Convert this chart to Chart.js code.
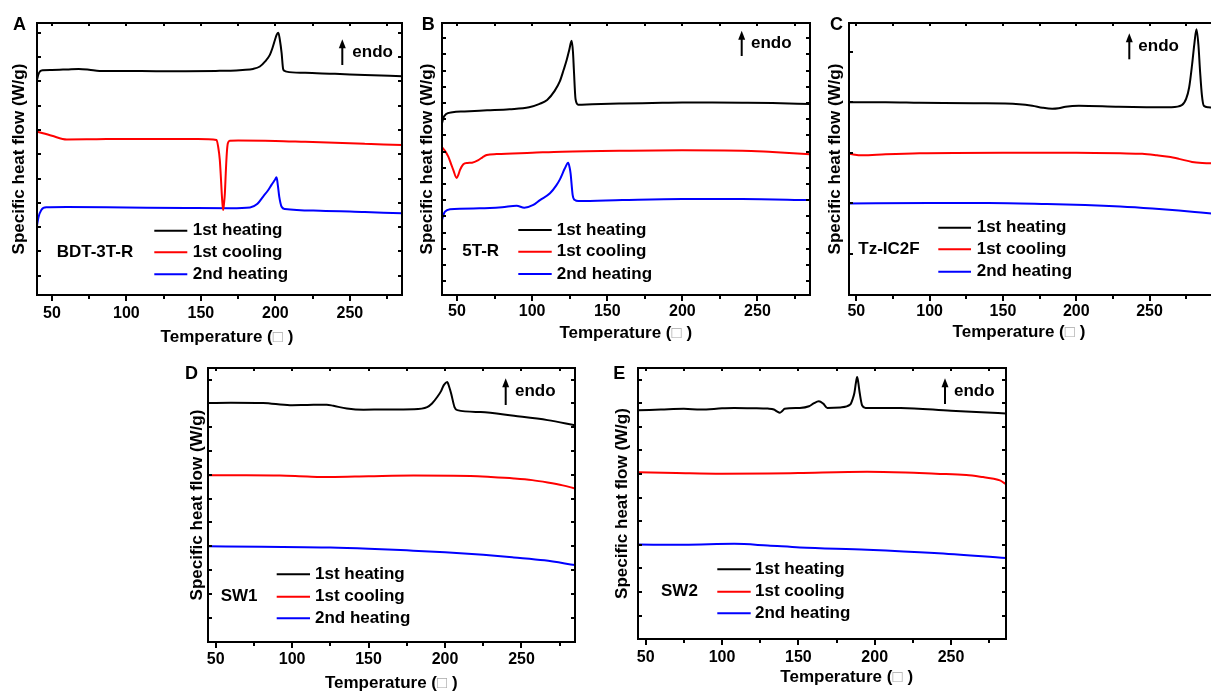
<!DOCTYPE html>
<html>
<head>
<meta charset="utf-8">
<title>DSC traces</title>
<script src="https://cdn.jsdelivr.net/npm/chart.js@4.4.0/dist/chart.umd.min.js"></script>
<style>
  html, body { margin: 0; padding: 0; background: #fff; overflow: hidden; }
  body { width: 1211px; height: 693px; position: relative; }
  canvas { position: absolute; }
</style>
</head>
<body>
<canvas id="panelA" width="410" height="350" style="left:0px;top:0px"></canvas>
<canvas id="panelB" width="410" height="350" style="left:410px;top:0px"></canvas>
<canvas id="panelC" width="420" height="350" style="left:820px;top:0px"></canvas>
<canvas id="panelD" width="420" height="343" style="left:180px;top:350px"></canvas>
<canvas id="panelE" width="420" height="343" style="left:600px;top:350px"></canvas>
<script>
// --- shared axis / legend values ---
const xTicks = [50, 100, 150, 200, 250];
const traceLabels = ['1st heating', '1st cooling', '2nd heating'];
const traceColors = ['#000000', '#ff0000', '#0000ff'];

// --- BDT-3T-R (heat flow in tick units, traces offset) ---
const tempA1 = [40, 40.8, 42, 44, 50, 60, 68, 75, 82, 90, 100, 120, 140, 160, 170, 178, 185, 189.6, 193, 196.3, 198, 199.7, 201, 202, 203, 204.2, 205.2, 206.2, 207.5, 220, 240, 260, 285];
const flowA1 = [8.85, 9.05, 9.2, 9.25, 9.26, 9.28, 9.3, 9.27, 9.22, 9.22, 9.22, 9.21, 9.21, 9.22, 9.23, 9.26, 9.3, 9.4, 9.6, 9.88, 10.15, 10.49, 10.72, 10.79, 10.5, 9.95, 9.3, 9.22, 9.19, 9.14, 9.1, 9.05, 9.0];
const tempA2 = [40, 50, 60, 80, 100, 120, 140, 155, 160.5, 161.6, 162.7, 163.4, 164.0, 164.5, 165.0, 165.5, 166.1, 166.7, 167.4, 168.1, 169.4, 175, 200, 220, 240, 260, 285];
const flowA2 = [6.72, 6.55, 6.4, 6.41, 6.42, 6.42, 6.42, 6.41, 6.38, 6.1, 5.56, 4.87, 4.18, 3.75, 3.5, 3.75, 4.18, 5.01, 5.83, 6.24, 6.35, 6.36, 6.34, 6.3, 6.26, 6.22, 6.17];
const tempA3 = [40, 41, 42.9, 46.2, 60, 100, 140, 170, 183, 188, 191.8, 195, 197.4, 199.5, 200.8, 201.7, 202.6, 204.2, 206.4, 230, 260, 285];
const flowA3 = [2.85, 3.2, 3.5, 3.61, 3.62, 3.6, 3.58, 3.57, 3.6, 3.75, 4.05, 4.3, 4.53, 4.72, 4.84, 4.5, 4.05, 3.63, 3.54, 3.47, 3.41, 3.36];

// --- 5T-R ---
const tempB1 = [40, 41, 42.5, 47, 55, 70, 85, 98, 105, 110, 115, 118.5, 121, 123, 124.7, 126.3, 127.2, 127.8, 128.9, 130.7, 140, 160, 180, 200, 220, 240, 260, 285];
const flowB1 = [10.6, 10.95, 11.15, 11.28, 11.33, 11.4, 11.47, 11.59, 11.8, 12.04, 12.6, 13.2, 13.9, 14.5, 15.12, 15.7, 15.0, 13.9, 12.1, 11.75, 11.78, 11.82, 11.85, 11.88, 11.88, 11.87, 11.85, 11.79];
const tempB2 = [40, 42, 44.2, 46, 47.5, 49.8, 51, 52, 54.2, 57, 60, 64.2, 67, 69.8, 76.4, 100, 120, 165, 200, 240, 260, 285];
const flowB2 = [9.12, 8.9, 8.54, 8.1, 7.72, 7.22, 7.45, 7.72, 8.07, 8.15, 8.17, 8.33, 8.5, 8.64, 8.7, 8.78, 8.85, 8.91, 8.93, 8.91, 8.82, 8.69];
const tempB3 = [40, 41, 42, 45.3, 65, 80, 89.7, 94.8, 100.8, 105.2, 111.9, 116, 118.5, 121.8, 124, 125, 125.6, 127, 128.5, 130.7, 160, 200, 240, 285];
const flowB3 = [4.63, 4.95, 5.14, 5.29, 5.35, 5.42, 5.51, 5.39, 5.56, 5.86, 6.28, 6.75, 7.14, 7.82, 8.17, 7.85, 7.51, 6.17, 5.86, 5.8, 5.86, 5.92, 5.92, 5.86];

// --- Tz-IC2F ---
const tempC1 = [45, 70, 93, 130, 161, 170, 177, 183.6, 188, 192.7, 201.8, 229, 265, 272, 275, 277, 279, 280.5, 282, 283.3, 284.5, 285.7, 287, 290, 296];
const flowC1 = [3.81, 3.81, 3.8, 3.79, 3.77, 3.74, 3.7, 3.68, 3.69, 3.72, 3.74, 3.72, 3.71, 3.75, 3.88, 4.1, 4.55, 4.95, 5.25, 4.95, 4.4, 3.95, 3.74, 3.71, 3.7];
const tempC2 = [45, 54, 70, 93, 150, 200, 230, 245, 255, 263, 270, 279, 286, 296];
const flowC2 = [2.79, 2.76, 2.78, 2.8, 2.81, 2.81, 2.8, 2.79, 2.76, 2.73, 2.69, 2.63, 2.61, 2.6];
const tempC3 = [45, 100, 140, 180, 206, 230, 252, 270, 285, 296];
const flowC3 = [1.81, 1.82, 1.82, 1.8, 1.78, 1.75, 1.71, 1.67, 1.63, 1.6];

// --- SW1 ---
const tempD1 = [45, 60, 81, 98.6, 110, 122.7, 127, 135.8, 146.7, 160, 179.5, 188.3, 191.5, 194.9, 197.5, 199.2, 201.4, 202.8, 204, 206.2, 208, 223.3, 245.1, 267.1, 285];
const flowD1 = [10.04, 10.05, 10.04, 9.95, 9.96, 9.97, 9.92, 9.81, 9.76, 9.77, 9.78, 9.87, 10.02, 10.29, 10.55, 10.79, 10.92, 10.7, 10.44, 9.87, 9.74, 9.66, 9.5, 9.32, 9.1];
const tempD2 = [45, 70, 92, 110, 124.8, 150, 179.5, 216.7, 230, 245.1, 257, 267.1, 277, 285];
const flowD2 = [7.0, 7.0, 6.99, 6.95, 6.93, 6.96, 6.99, 6.97, 6.93, 6.87, 6.8, 6.7, 6.58, 6.45];
const tempD3 = [45, 80, 125, 150, 175, 200, 225, 245, 265, 285];
const flowD3 = [4.02, 4.0, 3.97, 3.92, 3.85, 3.77, 3.66, 3.55, 3.43, 3.23];

// --- SW2 ---
const tempE1 = [45, 60, 75, 86, 100, 108, 120, 130, 134, 136, 137.9, 139.5, 141, 151, 157, 160, 163.4, 166.3, 169, 177.6, 184, 185.5, 186.7, 187.7, 188.5, 189.3, 190.2, 191.8, 194, 217, 250, 270, 286];
const flowE1 = [9.69, 9.72, 9.75, 9.72, 9.77, 9.79, 9.78, 9.76, 9.72, 9.64, 9.58, 9.66, 9.75, 9.79, 9.86, 9.98, 10.07, 9.97, 9.79, 9.81, 9.93, 10.15, 10.42, 10.85, 11.1, 10.85, 10.42, 9.89, 9.79, 9.79, 9.67, 9.61, 9.55];
const tempE2 = [45, 70, 100, 130, 150, 195, 220, 240, 260, 271, 278, 282, 286];
const flowE2 = [7.06, 7.03, 7.0, 7.01, 7.03, 7.08, 7.05, 7.0, 6.95, 6.86, 6.79, 6.72, 6.56];
const tempE3 = [45, 75, 108, 130, 151, 195, 239, 286];
const flowE3 = [4.0, 3.99, 4.03, 3.96, 3.88, 3.78, 3.64, 3.43];

Chart.defaults.font.family = '"Liberation Sans", Arial, Helvetica, sans-serif';
Chart.defaults.color = '#000';

const FONT_TXT = 'bold 17px "Liberation Sans", Arial, sans-serif';
const FONT_LETTER = 'bold 18px "Liberation Sans", Arial, sans-serif';

// frame, inward/outward ticks, titles, endo arrow, legend and sample name
const panelDecor = {
  id: 'panelDecor',
  afterDraw(chart, args, o) {
    const ctx = chart.ctx;
    const { left, top, right, bottom } = chart.chartArea;
    const xs = chart.scales.x, ys = chart.scales.y;
    ctx.save();
    ctx.strokeStyle = '#000';
    ctx.fillStyle = '#000';
    ctx.lineWidth = 2;
    ctx.strokeRect(left, top, right - left, bottom - top);

    ctx.beginPath();
    for (let v = Math.ceil(xs.min / 25) * 25; v <= xs.max; v += 25) {
      const px = Math.round(xs.getPixelForValue(v));
      const major = v % 50 === 0;
      ctx.moveTo(px, bottom);
      ctx.lineTo(px, bottom + (major ? 6 : 4));
      ctx.moveTo(px, top);
      ctx.lineTo(px, top + 3);
    }
    for (let v = o.yTickStart; v <= ys.max; v += 1) {
      const py = Math.round(ys.getPixelForValue(v));
      ctx.moveTo(left, py);
      ctx.lineTo(left + 4, py);
      ctx.moveTo(right, py);
      ctx.lineTo(right - 4, py);
    }
    ctx.stroke();

    // panel letter
    ctx.font = FONT_LETTER;
    ctx.textAlign = 'left';
    ctx.textBaseline = 'alphabetic';
    ctx.fillText(o.letter, o.letterPos[0], o.letterPos[1]);

    // y title
    ctx.font = FONT_TXT;
    ctx.textBaseline = 'middle';
    ctx.save();
    ctx.translate(o.yTitleX, (top + bottom) / 2);
    ctx.rotate(-Math.PI / 2);
    ctx.textAlign = 'center';
    ctx.fillText('Specific heat flow (W/g)', 0, 0);
    ctx.restore();

    // x title, the unit glyph drawn lighter
    const parts = ['Temperature (', '\u25A1', ' )'];
    const widths = parts.map(s => ctx.measureText(s).width);
    let tx = o.xTitle[0] - widths.reduce((a, b) => a + b, 0) / 2;
    ctx.textAlign = 'left';
    parts.forEach((s, i) => {
      ctx.fillStyle = i === 1 ? '#a8a8a8' : '#000';
      ctx.fillText(s, tx, o.xTitle[1]);
      tx += widths[i];
    });
    ctx.fillStyle = '#000';

    // endo arrow
    const e = o.endo;
    ctx.beginPath();
    ctx.moveTo(e.x, e.bottom);
    ctx.lineTo(e.x, e.top + 6);
    ctx.stroke();
    ctx.beginPath();
    ctx.moveTo(e.x, e.top);
    ctx.lineTo(e.x - 3.5, e.top + 9);
    ctx.lineTo(e.x + 3.5, e.top + 9);
    ctx.closePath();
    ctx.fill();
    ctx.fillText('endo', e.textX, e.textY);

    // legend
    chart.data.datasets.forEach((ds, i) => {
      const y = o.legendRows[i];
      ctx.strokeStyle = ds.borderColor;
      ctx.beginPath();
      ctx.moveTo(o.legendLine[0], y);
      ctx.lineTo(o.legendLine[1], y);
      ctx.stroke();
      ctx.fillStyle = '#000';
      ctx.fillText(ds.label, o.legendTextX, y);
    });

    ctx.fillText(o.sample, o.samplePos[0], o.samplePos[1]);
    ctx.restore();
  }
};

function buildPanel(id, p) {
  const canvas = document.getElementById(id);
  const W = canvas.width, H = canvas.height;
  return new Chart(canvas, {
    type: 'line',
    data: {
      datasets: p.traces.map((tr, i) => ({
        label: traceLabels[i],
        data: tr[0].map((t, k) => ({ x: t, y: tr[1][k] })),
        borderColor: traceColors[i],
        borderWidth: 2,
        pointRadius: 0,
        cubicInterpolationMode: 'monotone',
        fill: false
      }))
    },
    options: {
      responsive: false,
      animation: false,
      devicePixelRatio: 1,
      layout: { padding: { left: 0, top: p.area.top, right: W - p.area.right, bottom: 0 } },
      scales: {
        x: {
          type: 'linear',
          min: p.xMin,
          max: p.xMax,
          grid: { display: false, drawTicks: false },
          border: { display: false },
          ticks: { color: '#000', font: { size: 16, weight: 'bold' }, padding: p.tickPad, maxRotation: 0, autoSkip: false },
          afterBuildTicks: s => { s.ticks = xTicks.map(v => ({ value: v })); },
          afterFit: s => { s.height = H - p.area.bottom; }
        },
        y: {
          type: 'linear',
          min: 0,
          max: p.yMax,
          grid: { display: false, drawTicks: false },
          border: { display: false },
          ticks: { display: false },
          afterFit: s => { s.width = p.area.left; }
        }
      },
      plugins: {
        legend: { display: false },
        tooltip: { enabled: false },
        panelDecor: p.decor
      }
    },
    plugins: [panelDecor]
  });
}

buildPanel('panelA', {
  traces: [[tempA1, flowA1], [tempA2, flowA2], [tempA3, flowA3]],
  xMin: 40, xMax: 285, yMax: 11.19, tickPad: 8.7,
  area: { left: 37, top: 23, right: 402, bottom: 295 },
  decor: {
    letter: 'A', letterPos: [13, 30], yTickStart: 0.79, yTitleX: 19.7, xTitle: [227, 337],
    endo: { x: 342.3, top: 39.3, bottom: 65, textX: 352.3, textY: 52.3 },
    legendLine: [154.3, 187.3], legendTextX: 192.7, legendRows: [230.7, 252.3, 274.3],
    sample: 'BDT-3T-R', samplePos: [56.7, 252.3]
  }
});

buildPanel('panelB', {
  traces: [[tempB1, flowB1], [tempB2, flowB2], [tempB3, flowB3]],
  xMin: 40, xMax: 285, yMax: 16.79, tickPad: 7.1,
  area: { left: 32, top: 23, right: 400, bottom: 295 },
  decor: {
    letter: 'B', letterPos: [11.7, 29.5], yTickStart: 0.85, yTitleX: 17.7, xTitle: [215.8, 333],
    endo: { x: 331.7, top: 30.7, bottom: 56, textX: 341, textY: 43.3 },
    legendLine: [108.3, 141.7], legendTextX: 146.7, legendRows: [230, 251.7, 274],
    sample: '5T-R', samplePos: [52.3, 251.7]
  }
});

buildPanel('panelC', {
  traces: [[tempC1, flowC1], [tempC2, flowC2], [tempC3, flowC3]],
  xMin: 45, xMax: 296, yMax: 5.375, tickPad: 7.1,
  area: { left: 29, top: 23, right: 397, bottom: 295 },
  decor: {
    letter: 'C', letterPos: [10, 30], yTickStart: 0.81, yTitleX: 15.5, xTitle: [199, 332],
    endo: { x: 309.3, top: 33.3, bottom: 59.3, textX: 318.3, textY: 46 },
    legendLine: [118.3, 151], legendTextX: 156.7, legendRows: [227.7, 249.3, 271.7],
    sample: 'Tz-IC2F', samplePos: [38.3, 249.3]
  }
});

buildPanel('panelD', {
  traces: [[tempD1, flowD1], [tempD2, flowD2], [tempD3, flowD3]],
  xMin: 45, xMax: 285, yMax: 11.51, tickPad: 7.7,
  area: { left: 28, top: 18, right: 395, bottom: 292 },
  decor: {
    letter: 'D', letterPos: [5, 28.5], yTickStart: 1.02, yTitleX: 17.5, xTitle: [211.3, 333.5],
    endo: { x: 325.7, top: 28.3, bottom: 55, textX: 335, textY: 41.7 },
    legendLine: [96.7, 130], legendTextX: 135, legendRows: [224.3, 246.7, 268.3],
    sample: 'SW1', samplePos: [40.7, 246.7]
  }
});

buildPanel('panelE', {
  traces: [[tempE1, flowE1], [tempE2, flowE2], [tempE3, flowE3]],
  xMin: 45, xMax: 286, yMax: 11.48, tickPad: 8.9,
  area: { left: 38, top: 18, right: 406, bottom: 289 },
  decor: {
    letter: 'E', letterPos: [13.3, 28.5], yTickStart: 0.99, yTitleX: 22.5, xTitle: [246.7, 327.5],
    endo: { x: 345, top: 28.3, bottom: 54, textX: 354, textY: 41.7 },
    legendLine: [117.3, 150.7], legendTextX: 155, legendRows: [219.3, 241.7, 263.3],
    sample: 'SW2', samplePos: [61, 241.7]
  }
});
</script>
</body>
</html>
